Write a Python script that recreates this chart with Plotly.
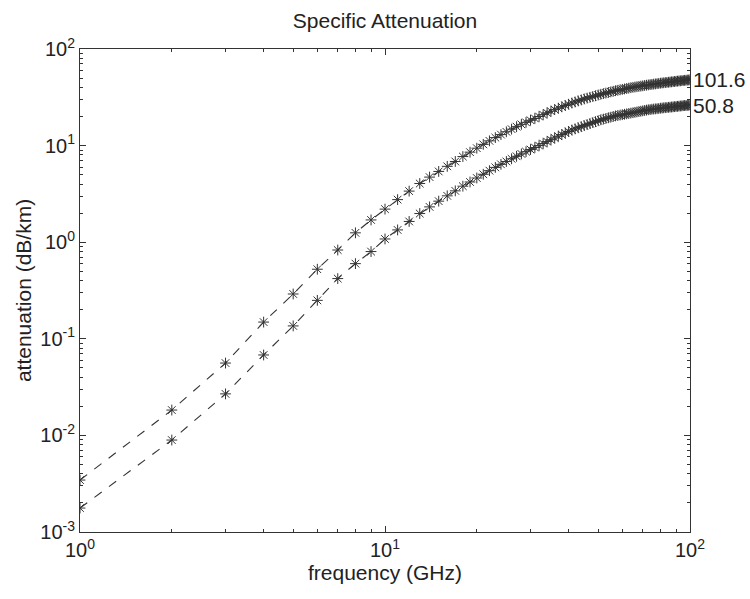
import math
import plotly.graph_objects as go

# Specific rain attenuation vs frequency for two rain rates (mm/h)
freq_ghz = list(range(1, 101))

atten_101_6 = [
    0.00345, 0.0183, 0.0561, 0.149, 0.291, 0.525, 0.830, 1.25, 1.70, 2.20,
    2.76, 3.38, 4.05, 4.72, 5.40, 6.10, 6.85, 7.70, 8.55, 9.40,
    10.3, 11.2, 12.1, 13.0, 13.9, 14.8, 15.7, 16.6, 17.4, 18.3,
    19.1, 20.0, 20.9, 21.8, 22.7, 23.6, 24.4, 25.2, 26.0, 26.8,
    27.6, 28.3, 29.0, 29.7, 30.4, 31.0, 31.6, 32.2, 32.8, 33.4,
    34.0, 34.5, 35.0, 35.5, 36.0, 36.5, 37.0, 37.4, 37.8, 38.2,
    38.6, 39.0, 39.4, 39.8, 40.1, 40.4, 40.7, 41.0, 41.3, 41.6,
    41.9, 42.2, 42.5, 42.8, 43.0, 43.3, 43.5, 43.8, 44.0, 44.3,
    44.5, 44.7, 44.9, 45.1, 45.3, 45.5, 45.7, 45.9, 46.1, 46.3,
    46.5, 46.7, 46.8, 47.0, 47.2, 47.4, 47.5, 47.7, 47.8, 48.0,
]

atten_50_8 = [
    0.00177, 0.00895, 0.0269, 0.068, 0.136, 0.250, 0.420, 0.600, 0.800, 1.08,
    1.34, 1.64, 1.98, 2.32, 2.66, 3.02, 3.40, 3.80, 4.20, 4.62,
    5.05, 5.50, 5.95, 6.40, 6.85, 7.30, 7.75, 8.20, 8.65, 9.10,
    9.55, 10.0, 10.5, 11.0, 11.5, 12.0, 12.5, 13.0, 13.5, 14.0,
    14.5, 14.9, 15.3, 15.7, 16.1, 16.5, 16.9, 17.3, 17.7, 18.1,
    18.5, 18.8, 19.1, 19.4, 19.7, 20.0, 20.3, 20.5, 20.7, 20.9,
    21.1, 21.3, 21.5, 21.7, 21.9, 22.1, 22.3, 22.5, 22.7, 22.9,
    23.1, 23.3, 23.5, 23.6, 23.8, 23.9, 24.0, 24.1, 24.2, 24.4,
    24.5, 24.6, 24.7, 24.8, 24.9, 25.0, 25.1, 25.2, 25.3, 25.4,
    25.5, 25.6, 25.7, 25.8, 25.9, 26.0, 26.0, 26.1, 26.2, 26.3,
]

series_labels = ["101.6", "50.8"]

x_tick_vals = [1, 10, 100]
x_tick_text = ["10<sup>0</sup>", "10<sup>1</sup>", "10<sup>2</sup>"]
y_tick_vals = [1e-3, 1e-2, 1e-1, 1, 10, 100]
y_tick_text = ["10<sup>-3</sup>", "10<sup>-2</sup>", "10<sup>-1</sup>",
               "10<sup>0</sup>", "10<sup>1</sup>", "10<sup>2</sup>"]

FONT = "Arial, Liberation Sans, sans-serif"
INK = "#222222"
AXIS = "#333333"

fig = go.Figure()
for ys, name in zip([atten_101_6, atten_50_8], series_labels):
    fig.add_trace(go.Scatter(
        x=freq_ghz, y=ys, mode="lines+markers", name=name,
        line=dict(color="#333333", width=1.1, dash="dash"),
        marker=dict(symbol="asterisk-open", size=9,
                    line=dict(color="#333333", width=1)),
        showlegend=False,
    ))
    # curve label placed just right of the last point
    fig.add_annotation(
        x=math.log10(freq_ghz[-1]), y=math.log10(ys[-1]), xref="x", yref="y",
        text=name, showarrow=False, xanchor="left", yanchor="middle",
        xshift=1, font=dict(family=FONT, size=21, color=INK),
    )

axis_common = dict(
    type="log", showline=True, linecolor=AXIS, linewidth=1,
    mirror="allticks", ticks="inside", ticklen=6, tickwidth=1, tickcolor=AXIS,
    showgrid=False, zeroline=False,
    tickfont=dict(family=FONT, size=20, color=INK),
    minor=dict(ticks="inside", ticklen=3, tickwidth=1, tickcolor=AXIS,
               dtick="D1", showgrid=False),
)

fig.update_xaxes(
    range=[0, 2], tickvals=x_tick_vals, ticktext=x_tick_text,
    title=dict(text="frequency (GHz)", font=dict(family=FONT, size=21, color=INK),
               standoff=0),
    **axis_common,
)
fig.update_yaxes(
    range=[-3, 2], tickvals=y_tick_vals, ticktext=y_tick_text,
    title=dict(text="attenuation (dB/km)", font=dict(family=FONT, size=21, color=INK),
               standoff=2),
    **axis_common,
)

fig.update_layout(
    width=750, height=599,
    margin=dict(l=80, r=60, t=49, b=67),
    paper_bgcolor="white", plot_bgcolor="white",
    title=dict(text="Specific Attenuation", x=0.5, xref="paper", y=0.965,
               yanchor="middle", font=dict(family=FONT, size=21, color=INK)),
    font=dict(family=FONT, color=INK),
)

fig.write_html("out.html")
